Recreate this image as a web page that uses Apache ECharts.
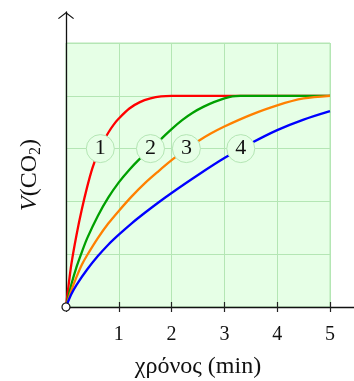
<!DOCTYPE html>
<html>
<head>
<meta charset="utf-8">
<script src="https://cdn.jsdelivr.net/npm/echarts@6/dist/echarts.min.js"></script>
<style>
  html, body { margin: 0; padding: 0; background: #ffffff; }
  #chart { width: 354px; height: 381px; }
</style>
</head>
<body>
<div id="chart"></div>
<script>
// Volume of CO2 released over time for four reaction conditions
const xTicks = [1, 2, 3, 4, 5];

const redX = [0, 0.1, 0.2, 0.3, 0.4, 0.5, 0.6, 0.7, 0.8, 0.9, 1.0, 1.2, 1.4, 1.6, 1.8, 2.0, 3.0, 4.0, 5.0];
const redY = [0, 0.8, 1.37, 1.85, 2.27, 2.63, 2.9, 3.12, 3.3, 3.45, 3.57, 3.76, 3.88, 3.95, 3.99, 4.0, 4.0, 4.0, 4.0];

const greenX = [0, 0.1, 0.2, 0.3, 0.4, 0.6, 0.8, 1.0, 1.2, 1.4, 1.6, 1.8, 2.0, 2.2, 2.4, 2.6, 2.8, 3.0, 3.15, 3.3, 4.0, 5.0];
const greenY = [0, 0.42, 0.76, 1.04, 1.3, 1.72, 2.07, 2.36, 2.6, 2.81, 3.0, 3.18, 3.37, 3.54, 3.68, 3.79, 3.88, 3.95, 3.99, 4.0, 4.0, 4.0];

const orangeX = [0, 0.1, 0.2, 0.3, 0.4, 0.6, 0.8, 1.0, 1.25, 1.5, 1.75, 2.0, 2.25, 2.5, 2.75, 3.0, 3.5, 4.0, 4.5, 5.0];
const orangeY = [0, 0.31, 0.57, 0.8, 0.98, 1.3, 1.58, 1.82, 2.1, 2.35, 2.57, 2.78, 2.97, 3.14, 3.29, 3.42, 3.64, 3.82, 3.95, 4.0];

const blueX = [0, 0.1, 0.2, 0.4, 0.6, 0.8, 1.0, 1.25, 1.5, 1.75, 2.0, 2.5, 3.0, 3.5, 4.0, 4.5, 5.0];
const blueY = [0, 0.24, 0.42, 0.71, 0.96, 1.18, 1.37, 1.59, 1.79, 1.98, 2.16, 2.5, 2.82, 3.1, 3.35, 3.55, 3.71];

const markerLabels = ['1', '2', '3', '4'];
const markerX = [0.65, 1.6, 2.28, 3.31];
const markerY = [3, 3, 3, 3];

const zip = (xs, ys) => xs.map((x, i) => [x, ys[i]]);

const SERIF = '"Liberation Serif", "DejaVu Serif", serif';
const GRID_GREEN = '#b4e6b4';
const FILL_GREEN = '#e6ffe6';

function curve(name, color, xs, ys) {
  return {
    name: name,
    type: 'line',
    xAxisIndex: 0,
    yAxisIndex: 0,
    data: zip(xs, ys),
    smooth: 0.3,
    showSymbol: false,
    symbol: 'none',
    lineStyle: { color: color, width: 2.3 },
    z: 3
  };
}

const chart = echarts.init(document.getElementById('chart'), null, { renderer: 'canvas' });

chart.setOption({
  animation: false,
  backgroundColor: '#ffffff',
  grid: [
    {
      left: 66, top: 43, width: 264, height: 264,
      outerBoundsMode: 'none', containLabel: false,
      show: true, backgroundColor: FILL_GREEN,
      borderColor: GRID_GREEN, borderWidth: 1
    },
    { left: 66, top: 12, right: 0, bottom: 74, outerBoundsMode: 'none', containLabel: false }
  ],
  xAxis: [
    {
      gridIndex: 0, type: 'value', min: 0, max: 5, interval: 1,
      axisLine: { show: false },
      axisTick: { show: true, length: 5, lineStyle: { color: '#222', width: 1.2 } },
      axisLabel: {
        show: true, margin: 18, fontFamily: SERIF, fontSize: 20, color: '#111',
        formatter: v => (xTicks.indexOf(v) >= 0 ? String(v) : '')
      },
      splitLine: { show: true, lineStyle: { color: GRID_GREEN, width: 1 } },
      name: 'χρόνος (min)', nameLocation: 'middle', nameGap: 48,
      nameTextStyle: { fontFamily: SERIF, fontSize: 24, color: '#111' }
    },
    {
      gridIndex: 0, type: 'value', min: 0, max: 5, interval: 1, position: 'bottom',
      axisLine: { show: false },
      axisTick: { show: true, inside: true, length: 5, lineStyle: { color: '#222', width: 1.2 } },
      axisLabel: { show: false },
      splitLine: { show: false }
    },
    {
      gridIndex: 1, type: 'value', min: 0, max: 1,
      axisLine: { show: true, lineStyle: { color: '#111', width: 1.3 } },
      axisTick: { show: false }, axisLabel: { show: false }, splitLine: { show: false }
    }
  ],
  yAxis: [
    {
      gridIndex: 0, type: 'value', min: 0, max: 5, interval: 1,
      axisLine: { show: false }, axisTick: { show: false }, axisLabel: { show: false },
      splitLine: { show: true, lineStyle: { color: GRID_GREEN, width: 1 } },
      name: '{v|V}{n|(CO}{s|2}{n|)}', nameLocation: 'middle', nameRotate: 90, nameGap: 22,
      nameTextStyle: {
        rich: {
          v: { fontFamily: SERIF, fontSize: 24, fontStyle: 'italic', color: '#111', lineHeight: 28 },
          n: { fontFamily: SERIF, fontSize: 24, color: '#111', lineHeight: 28 },
          s: { fontFamily: SERIF, fontSize: 16, color: '#111', lineHeight: 28, verticalAlign: 'bottom' }
        }
      }
    },
    {
      gridIndex: 1, type: 'value', min: 0, max: 1,
      axisLine: {
        show: true, lineStyle: { color: '#111', width: 1.3 },
        symbol: ['none', 'path://M0,6.2 L8,0 L16,6.2 L15.2,7 L8,1.4 L0.8,7 Z'],
        symbolSize: [16, 7], symbolOffset: [0, -3.5]
      },
      axisTick: { show: false }, axisLabel: { show: false }, splitLine: { show: false }
    }
  ],
  series: [
    curve('1', '#ff0000', redX, redY),
    curve('2', '#00a000', greenX, greenY),
    curve('3', '#ff8000', orangeX, orangeY),
    curve('4', '#0000ff', blueX, blueY),
    {
      type: 'scatter',
      xAxisIndex: 0, yAxisIndex: 0,
      data: markerX.map((x, i) => ({ value: [x, markerY[i]], label: { formatter: markerLabels[i] } })),
      symbol: 'circle', symbolSize: 28,
      itemStyle: { color: FILL_GREEN, borderColor: GRID_GREEN, borderWidth: 1, opacity: 1 },
      label: { show: true, position: 'inside', fontFamily: SERIF, fontSize: 22, color: '#111' },
      z: 5
    },
    {
      type: 'scatter',
      xAxisIndex: 0, yAxisIndex: 0,
      data: [[0, 0]],
      symbol: 'circle', symbolSize: 8,
      itemStyle: { color: '#ffffff', borderColor: '#111', borderWidth: 1.2, opacity: 1 },
      z: 6
    }
  ]
});
</script>
</body>
</html>
